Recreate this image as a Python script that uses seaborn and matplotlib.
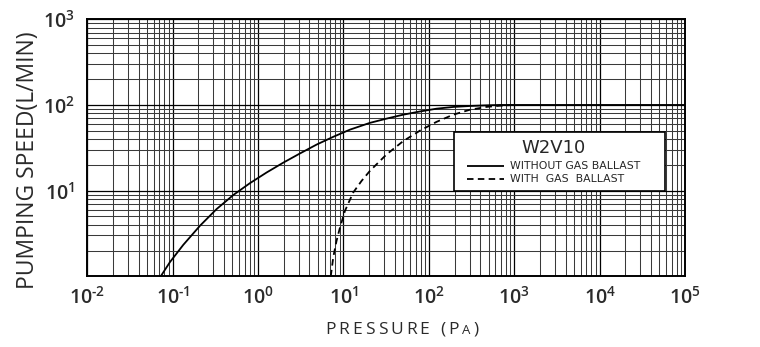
import matplotlib
matplotlib.use("Agg")
import matplotlib.pyplot as plt
from matplotlib.patches import Rectangle
from matplotlib.ticker import FixedLocator, FixedFormatter, LogLocator, NullFormatter
import numpy as np
import pandas as pd
import seaborn as sns

# Pumping speed curves of the W2V10 pump (pressure in Pa, speed in L/min)
p_without = [0.0724, 0.093, 0.133, 0.209, 0.327, 0.513, 0.80, 1.26, 1.97, 3.1,
             4.85, 7.6, 11.9, 20.4, 32, 50, 79, 123, 193, 303, 475, 680, 1e5]
s_without = [1.0, 1.47, 2.33, 3.9, 6.1, 8.9, 12.2, 16.3, 21.2, 27.2,
             34.5, 42.5, 51.5, 61.8, 69.3, 77, 84, 90.5, 94.8, 97.3, 99, 100, 100]

p_with = [7.1, 7.6, 8.3, 9.1, 10.4, 13.0, 16.3, 20.4, 32, 50, 79, 123, 193, 303, 475, 680, 980]
s_with = [1.0, 1.68, 2.6, 3.7, 5.8, 9.5, 13, 17, 26.5, 37.8, 50.3, 63.5, 77, 88, 95, 98, 100]

series_names = ["WITHOUT GAS BALLAST", "WITH  GAS  BALLAST"]
model_name = "W2V10"

x_ticks = [1e-2, 1e-1, 1e0, 1e1, 1e2, 1e3, 1e4, 1e5]
x_tick_labels = [r"$10^{\text{-}2}$", r"$10^{\text{-}1}$", r"$10^{0}$", r"$10^{1}$",
                 r"$10^{2}$", r"$10^{3}$", r"$10^{4}$", r"$10^{5}$"]
y_ticks = [1e1, 1e2, 1e3]
y_tick_labels = [r"$10^{1}$", r"$10^{2}$", r"$10^{3}$"]

df = pd.concat([
    pd.DataFrame({"pressure": p_without, "speed": s_without, "mode": series_names[0]}),
    pd.DataFrame({"pressure": p_with, "speed": s_with, "mode": series_names[1]}),
], ignore_index=True)

sns.set_style("white")
plt.rcParams["font.family"] = ["Open Sans", "DejaVu Sans"]
plt.rcParams["mathtext.fontset"] = "custom"
plt.rcParams["mathtext.rm"] = "Open Sans:semibold"
plt.rcParams["mathtext.it"] = "Open Sans:semibold"
plt.rcParams["mathtext.default"] = "rm"

TEXT = "#2a2a2a"
W, H = 760, 347

fig = plt.figure(figsize=(7.6, 3.47), dpi=100)
ax = fig.add_axes([0.1149, 0.2037, 0.7864, 0.7407])

ax.set_xscale("log")
ax.set_yscale("log")
ax.set_xlim(1e-2, 1e5)
ax.set_ylim(1, 1e3)

# log grid: decades in black, sub-decades in dark grey
ax.xaxis.set_minor_locator(LogLocator(base=10, subs=np.arange(2, 10), numticks=20))
ax.yaxis.set_minor_locator(LogLocator(base=10, subs=np.arange(2, 10), numticks=20))
ax.xaxis.set_minor_formatter(NullFormatter())
ax.yaxis.set_minor_formatter(NullFormatter())
ax.grid(which="minor", color="#3a3a3a", linewidth=0.75)
ax.grid(which="major", color="black", linewidth=0.9)
ax.set_axisbelow(True)

sns.lineplot(data=df, x="pressure", y="speed", style="mode", color="black",
             dashes=[(1, 0), (3.6, 2.4)], linewidth=1.3, ax=ax,
             estimator=None, sort=False, legend=False)

ax.xaxis.set_major_locator(FixedLocator(x_ticks))
ax.xaxis.set_major_formatter(FixedFormatter(x_tick_labels))
ax.yaxis.set_major_locator(FixedLocator(y_ticks))
ax.yaxis.set_major_formatter(FixedFormatter(y_tick_labels))
ax.tick_params(which="both", length=0)
ax.tick_params(axis="x", pad=7, labelsize=14, colors=TEXT)
ax.tick_params(axis="y", pad=9, labelsize=14, colors=TEXT)

for side in ["left", "right", "top", "bottom"]:
    ax.spines[side].set_visible(True)
    ax.spines[side].set_color("black")
    ax.spines[side].set_linewidth(1.4)

ax.set_xlabel("")
ax.set_ylabel("")

# legend: white boxed panel with the model name centred over the entries
box = Rectangle((454.3 / W, 1 - 190.7 / H), (665 - 454.3) / W, (190.7 - 131.7) / H,
                transform=fig.transFigure, facecolor="white", edgecolor="black",
                linewidth=1.2, zorder=4, clip_on=False)
ax.add_artist(box)

handles = ax.get_lines()[:2]
ax_x = lambda px: (px - 87.3) / 597.7
ax_y = lambda py: (276.3 - py) / 257.0
leg = ax.legend(handles, series_names, title=model_name, loc="upper left",
                bbox_to_anchor=(ax_x(466.7), ax_y(138.5)),
                borderaxespad=0, frameon=False,
                handlelength=3.4, handletextpad=0.6, borderpad=0,
                labelspacing=0.28, prop={"family": "DejaVu Sans", "size": 7.8})
leg.get_title().set_family("DejaVu Sans")
leg.get_title().set_fontsize(13)
leg._legend_box.align = "center"
leg._legend_box.sep = 3.5
leg.set_zorder(5)


def tracked_text(x_px, y_px, parts, tracking):
    """Draw text runs letter by letter with extra spacing (pixels)."""
    fig.canvas.draw()
    renderer = fig.canvas.get_renderer()
    x = x_px
    for s, size in parts:
        for ch in s:
            t = fig.text(x / fig.bbox.width, y_px / fig.bbox.height, ch,
                         ha="left", va="baseline", fontsize=size, color=TEXT)
            w = t.get_window_extent(renderer).width
            if ch == " ":
                w = size * 0.26 * fig.dpi / 72
            x += w + tracking


# axis titles
fig.text(28 / W, 1 - 160 / H, "PUMPING SPEED(L/MIN)", rotation=90,
         ha="center", va="center", fontsize=16.5, color=TEXT)
tracked_text(325, H - 334, [("PRESSURE (P", 12.5), ("A", 9.5), (")", 12.5)], 3.0)

fig.savefig("out.png", dpi=100)
